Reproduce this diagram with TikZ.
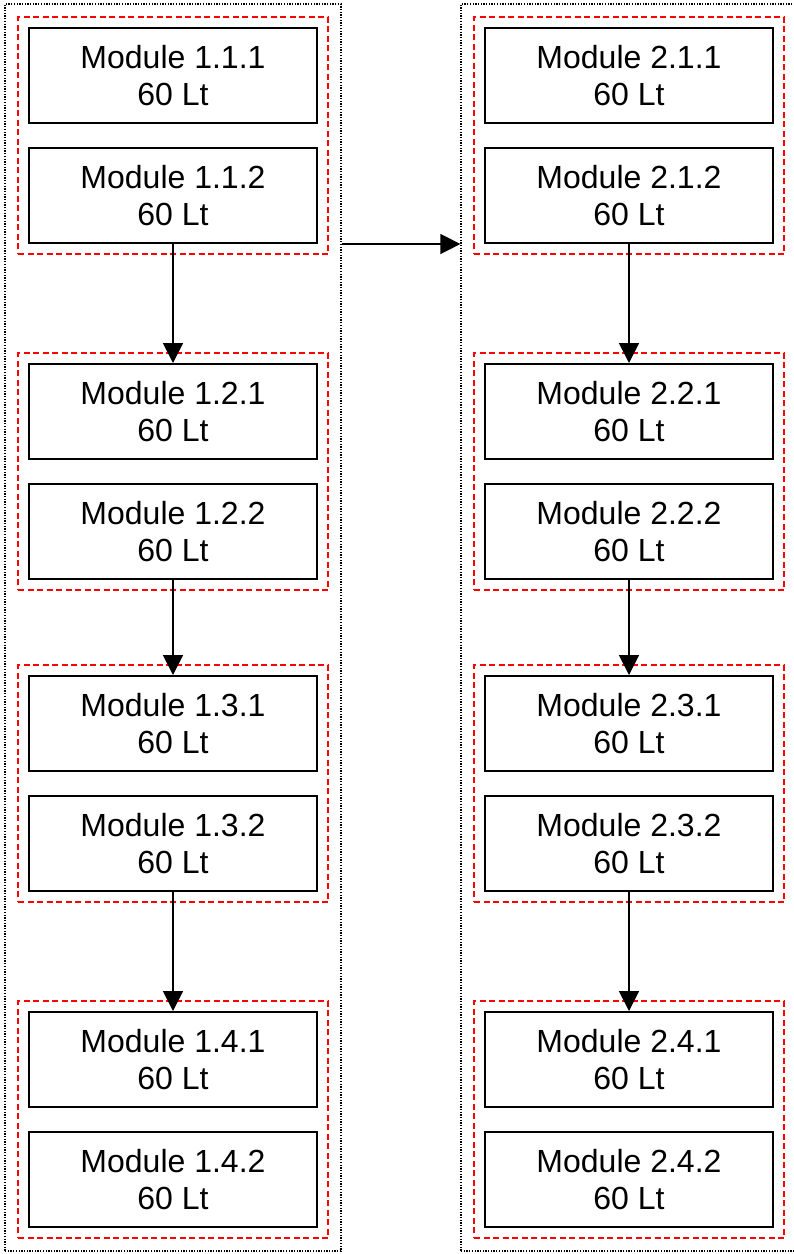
\documentclass[tikz,border=0pt]{standalone}
\usepackage{fontspec}
\setmainfont{Liberation Sans}
\usetikzlibrary{arrows.meta,fit}
\begin{document}
\begin{tikzpicture}[x=1pt,y=-1pt,
  modbox/.style={draw=black,line width=2pt,minimum width=288pt,minimum height=95pt,inner sep=0pt,align=center,font=\fontsize{32}{37}\selectfont},
  grp/.style={draw=red,line width=1.3pt,dash pattern=on 6pt off 3.5pt,inner sep=10pt},
  outer/.style={draw=black,line width=1.3pt,dash pattern=on 1.3pt off 1.4pt,minimum width=336pt,minimum height=1247pt,inner sep=0pt},
  arr/.style={line width=1.6pt,-{Triangle[length=20pt,width=20pt]}}]
\useasboundingbox (0,0) rectangle (794,1254);
\clip (0,0) rectangle (794,1254);
\node[outer] (L) at (173,627.5) {};
\node[outer] (R) at (629,627.5) {};
\foreach \c/\x in {1/173,2/629}{
  \foreach \g/\y in {1/75.5,2/411.5,3/723.5,4/1059.5}{
    \node[modbox] (b\c\g1) at (\x,\y) {Module \c.\g.1\\60 Lt};
    \node[modbox] (b\c\g2) at (\x,\y+120) {Module \c.\g.2\\60 Lt};
    \node[grp,fit=(b\c\g1)(b\c\g2)] (g\c\g) {};
  }
  \draw[arr] (b\c12.south) -- (b\c21.north);
  \draw[arr] (b\c22.south) -- (b\c31.north);
  \draw[arr] (b\c32.south) -- (b\c41.north);
}
\draw[arr] (L.east |- b112.south) -- (R.west |- b112.south);
\end{tikzpicture}
\end{document}
